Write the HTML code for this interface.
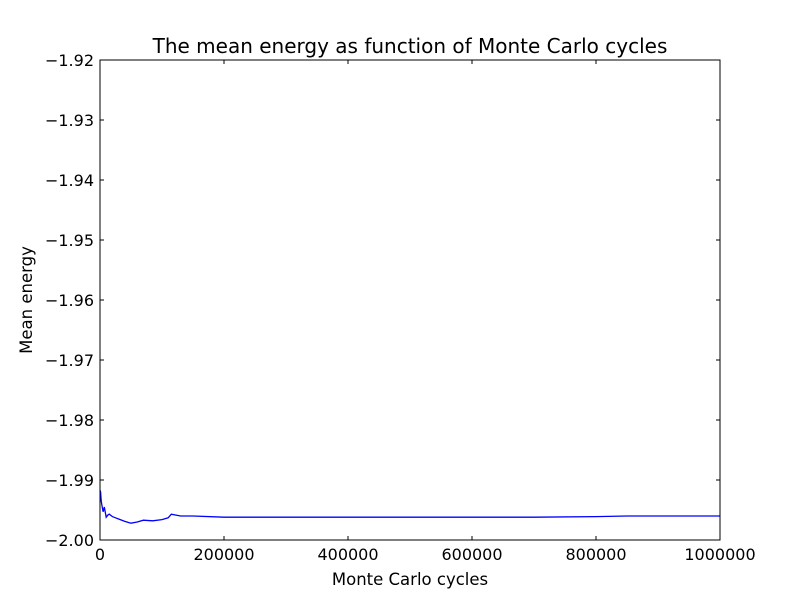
<!DOCTYPE html>
<html><head><meta charset="utf-8"><style>
body{margin:0;background:#fff;}
svg{display:block;font-family:"DejaVu Sans","Liberation Sans",sans-serif;}
</style></head><body>
<svg width="800" height="600">
<rect width="800" height="600" fill="#fff"/>
<g id="g"></g>
</svg>
<script>
const xVals=[0,1000,2000,3000,5000,7000,10000,13000,15000,20000,25000,30000,40000,50000,60000,70000,85000,100000,110000,115000,130000,150000,200000,250000,300000,400000,500000,600000,700000,800000,850000,900000,1000000];
const yVals=[-1.9917,-1.992,-1.9935,-1.9942,-1.9953,-1.9945,-1.9962,-1.9958,-1.9957,-1.9961,-1.9963,-1.9965,-1.9969,-1.9972,-1.997,-1.9967,-1.9968,-1.9966,-1.9963,-1.9957,-1.9960,-1.9960,-1.9962,-1.9962,-1.9962,-1.9962,-1.9962,-1.9962,-1.9962,-1.9961,-1.9960,-1.9960,-1.9960];
const xTicks=[0,200000,400000,600000,800000,1000000];
const yTicks=[-2.00,-1.99,-1.98,-1.97,-1.96,-1.95,-1.94,-1.93,-1.92];
const L=100,R=720,T=60,B=540;
const sx=v=>L+(v-0)/1000000*(R-L);
const sy=v=>B-(v+2.00)/0.08*(B-T);
const g=document.getElementById('g');
const NS='http://www.w3.org/2000/svg';
function mk(t,a,txt){const e=document.createElementNS(NS,t);for(const k in a)e.setAttribute(k,a[k]);if(txt!==undefined)e.textContent=txt;g.appendChild(e);return e;}
let d=xVals.map((x,i)=>(i?'L':'M')+sx(x).toFixed(1)+','+sy(yVals[i]).toFixed(1)).join('');
let line=mk('path',{d:d,fill:'none',stroke:'#0000ff','stroke-width':1.3});


xTicks.forEach(v=>{const x=sx(v);
 let t=mk('line',{x1:x,x2:x,y1:B,y2:B-4,stroke:'#000'});
 mk('line',{x1:x,x2:x,y1:T,y2:T+4,stroke:'#000'});
 let l=mk('text',{x:x,y:B+20,'text-anchor':'middle','font-size':16},String(v));
 
 });
yTicks.forEach(v=>{const y=sy(v);
 let t=mk('line',{x1:L,x2:L+4,y1:y,y2:y,stroke:'#000'});
 mk('line',{x1:R,x2:R-4,y1:y,y2:y,stroke:'#000'});
 let l=mk('text',{x:L-6,y:y+6,'text-anchor':'end','font-size':16},'\u2212'+Math.abs(v).toFixed(2));
 
 });
let fr=mk('rect',{x:L,y:T,width:R-L,height:B-T,fill:'none',stroke:'#000'});


let ti=mk('text',{x:410,y:53,'text-anchor':'middle','font-size':20},'The mean energy as function of Monte Carlo cycles');


let xt=mk('text',{x:410,y:585,'text-anchor':'middle','font-size':16.5},'Monte Carlo cycles');


let yt=mk('text',{x:32,y:300,'text-anchor':'middle','font-size':16.5,transform:'rotate(-90 32 300)'},'Mean energy');


</script>
</body></html>
